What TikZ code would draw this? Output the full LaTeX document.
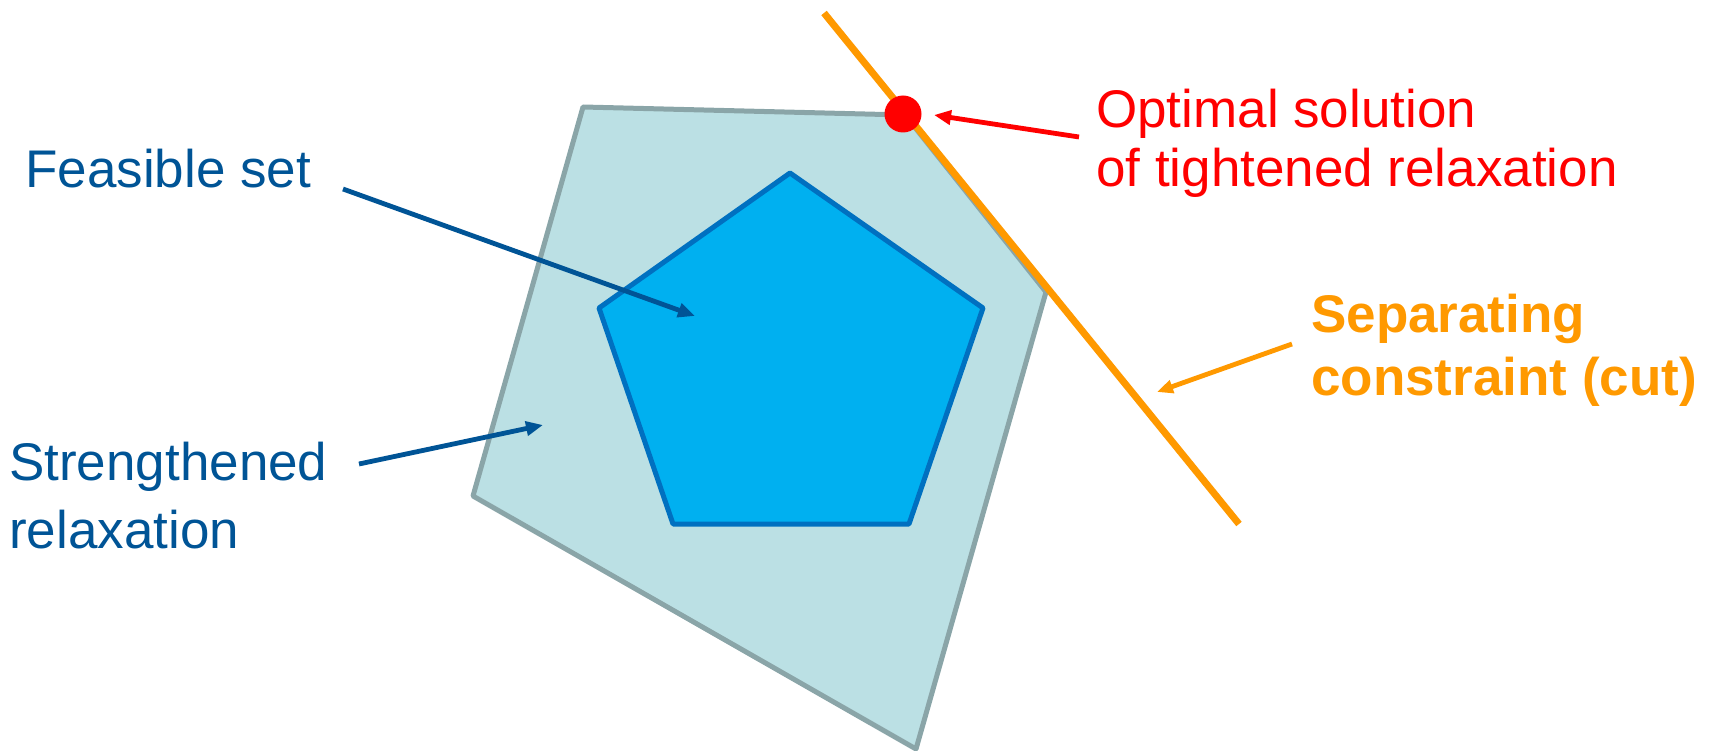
\documentclass[tikz,border=0pt]{standalone}
\usepackage{fontspec}
\setmainfont{Liberation Sans}
\usetikzlibrary{
  arrows.meta % For arrow tips
}

\definecolor{textblue}{RGB}{0,84,150}
\definecolor{setblue}{RGB}{0,176,240}
\definecolor{setedge}{RGB}{0,112,192}
\definecolor{relaxfill}{RGB}{187,224,228}
\definecolor{relaxedge}{RGB}{138,165,168}
\definecolor{cutorange}{RGB}{255,153,0}
\definecolor{optred}{RGB}{255,0,0}

\begin{document}
\begin{tikzpicture}[
      x=1pt, y=-1pt, % pixel grid, y downwards
      >={Triangle[length=17pt,width=14pt]}, % Default arrow tip
      label/.style={anchor=base west, inner sep=0pt, font=\fontsize{53}{64}\selectfont},
      pointer/.style={line width=4.8pt, ->}, % Style for label arrows
    ]

    \useasboundingbox (0,0) rectangle (1713,751);

    % Ecken der Relaxierung
    \coordinate (R1) at (583,107);
    \coordinate (R2) at (905,115);
    \coordinate (R3) at (1046,292);
    \coordinate (R4) at (916,749);
    \coordinate (R5) at (473,496);

    % Ecken der zulaessigen Menge
    \coordinate (P1) at (790,173);
    \coordinate (P2) at (983,308);
    \coordinate (P3) at (909,524);
    \coordinate (P4) at (673,524);
    \coordinate (P5) at (599,308);

    % Schnitt
    \coordinate (C1) at (824,13);
    \coordinate (C2) at (1239,524);

    % Relaxierung
    \draw[line width=5pt, line join=round, relaxedge, fill=relaxfill]
      (R1) -- (R2) -- (R3) -- (R4) -- (R5) -- cycle;

    % zulaessige Menge
    \draw[line width=5pt, line join=round, setedge, fill=setblue]
      (P1) -- (P2) -- (P3) -- (P4) -- (P5) -- cycle;

    \draw[line width=7pt, cutorange] (C1) -- (C2);

    \node[circle, fill=optred, inner sep=0pt, minimum size=37pt] (opt) at (903,114) {};

    % Beschriftungen
    \node[label, textblue] (feas) at (25,188) {Feasible set};
    \node[label, textblue] (strong1) at (9,480) {Strengthened};
    \node[label, textblue] (strong2) at (9,548) {relaxation};
    \node[label, optred] (opt1) at (1096,128) {Optimal solution};
    \node[label, optred] (opt2) at (1096,187) {of tightened relaxation};
    \node[label, cutorange, font=\fontsize{53}{64}\selectfont\bfseries] (sep1) at (1311,332) {Separating};
    \node[label, cutorange, font=\fontsize{53}{64}\selectfont\bfseries] (sep2) at (1311,395) {constraint (cut)};

    % Pfeile
    \coordinate (feasT) at (343,189);
    \coordinate (feasH) at (695,316);
    \coordinate (strongT) at (359,464);
    \coordinate (strongH) at (543,425);
    \coordinate (optT) at (1079,137);
    \coordinate (optH) at (934,115);
    \coordinate (cutT) at (1292,344);
    \coordinate (cutH) at (1157,392);

    \draw[pointer, textblue] (feasT) -- (feasH);
    \draw[pointer, textblue] (strongT) -- (strongH);
    \draw[pointer, optred] (optT) -- (optH);
    \draw[pointer, cutorange, >={Triangle[length=16pt,width=13pt]}] (cutT) -- (cutH);

  \end{tikzpicture}
\end{document}
